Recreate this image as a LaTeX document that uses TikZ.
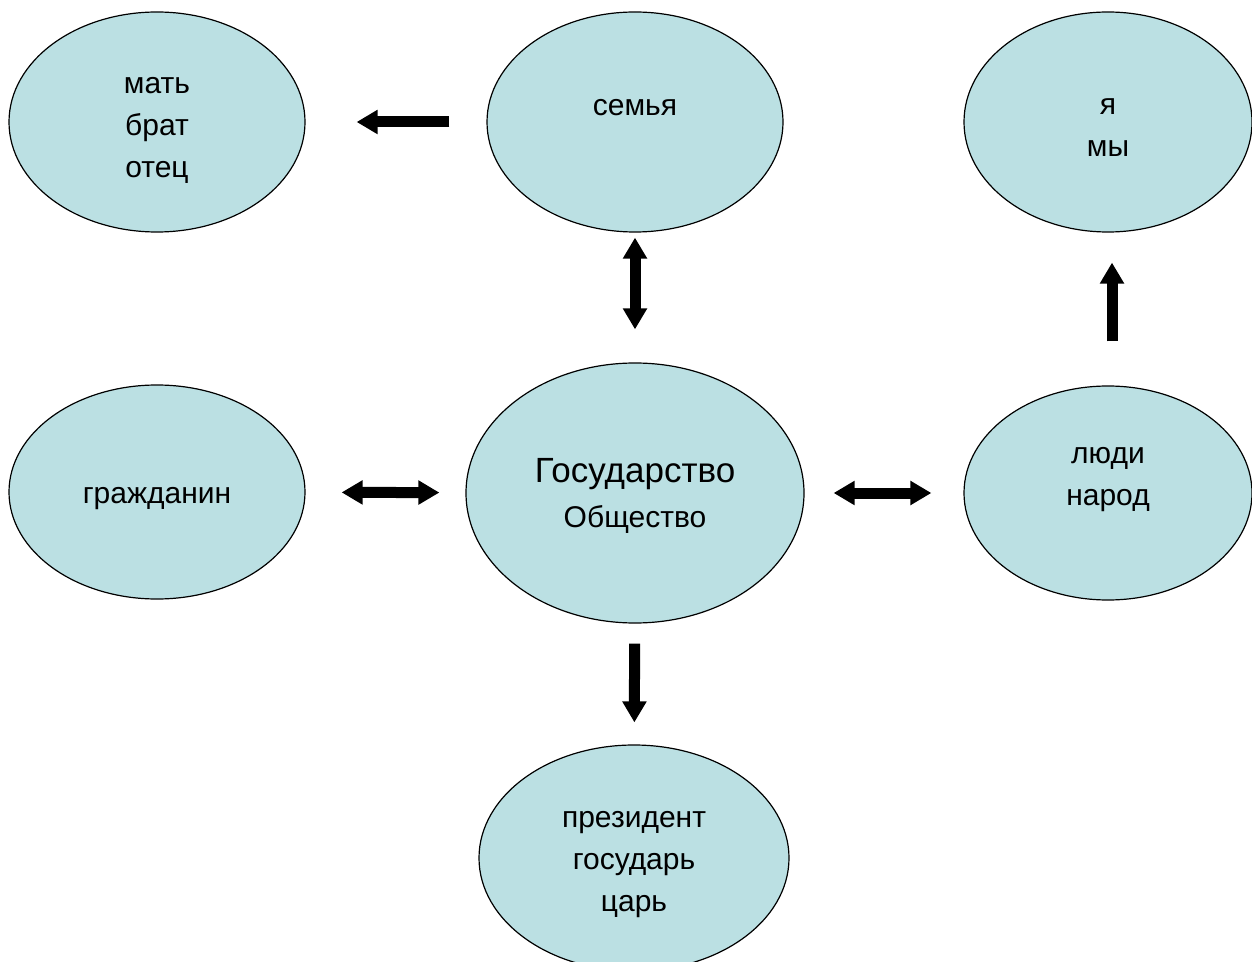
\documentclass[tikz,border=0pt]{standalone}
\usepackage{fontspec}
\setmainfont{Liberation Sans}
\usetikzlibrary{arrows.meta,shapes.geometric}
\definecolor{bubblefill}{HTML}{BBE0E3}

\begin{document}
\begin{tikzpicture}[
  x = 0.5pt, y = -0.5pt,
  bubble/.style  = {ellipse, black, draw, fill=bubblefill, line width=0.6pt, inner sep=0pt},
  words/.style   = {align=center, inner sep=0pt, font=\fontsize{15pt}{21pt}\selectfont},
  onelink/.style = {line width=5.5pt, -{Triangle[width=11.5pt, length=10.5pt]}},
  twolink/.style = {line width=5.5pt, {Triangle[width=11.5pt, length=10.5pt]}-{Triangle[width=11.5pt, length=10.5pt]}},
  ]
  \useasboundingbox (0,0) rectangle (1252,962);
  % ellipses
  \node[bubble, minimum width=148pt, minimum height=110pt] (mat)   at (157,122)  {};
  \node[bubble, minimum width=148pt, minimum height=110pt] (semya) at (635,122)  {};
  \node[bubble, minimum width=144pt, minimum height=110pt] (ya)    at (1108,122) {};
  \node[bubble, minimum width=148pt, minimum height=107pt] (grazh) at (157,492)  {};
  \node[bubble, minimum width=169pt, minimum height=130pt] (gos)   at (635,493)  {};
  \node[bubble, minimum width=144pt, minimum height=107pt] (lyudi) at (1108,493) {};
  \node[bubble, minimum width=155pt, minimum height=113pt] (prez)  at (634,858)  {};
  % texts
  \node[words, yshift=-4pt]   (mat-t)   at (mat)   {мать\\брат\\отец};
  \node[words, yshift=-3pt]   (semya-t) at (semya) {семья\\ \mbox{}};
  \node[words, yshift=-3pt]   (ya-t)    at (ya)    {я\\мы};
  \node[words, yshift=-3.5pt] (grazh-t) at (grazh) {гражданин};
  \node[words, yshift=-1.5pt, font=\fontsize{15pt}{22.5pt}\selectfont] (gos-t) at (gos)
    {{\fontsize{17.5pt}{22.5pt}\selectfont Государство}\\Общество};
  \node[words, yshift=-2pt]   (lyudi-t) at (lyudi) {люди\\народ\\ \mbox{}};
  \node[words, yshift=-3.5pt] (prez-t)  at (prez)  {президент\\государь\\царь};
  % arrows
  \draw[onelink, shorten <=18.5pt, shorten >=25.5pt] (semya) -- (mat);
  \draw[twolink, shorten <=2.5pt,  shorten >=16.5pt] (semya) -- (gos);
  \draw[onelink, shorten <=22pt,   shorten >=15pt]   ([xshift=2pt]lyudi.north) -- ([xshift=2pt]ya.south);
  \draw[twolink, shorten <=13pt,   shorten >=18pt]   (gos) -- (grazh);
  \draw[twolink, shorten <=14.5pt, shorten >=16pt]   (gos) -- (lyudi);
  \draw[onelink, shorten <=10pt,   shorten >=11pt]   (gos) -- (prez);
\end{tikzpicture}
\end{document}
